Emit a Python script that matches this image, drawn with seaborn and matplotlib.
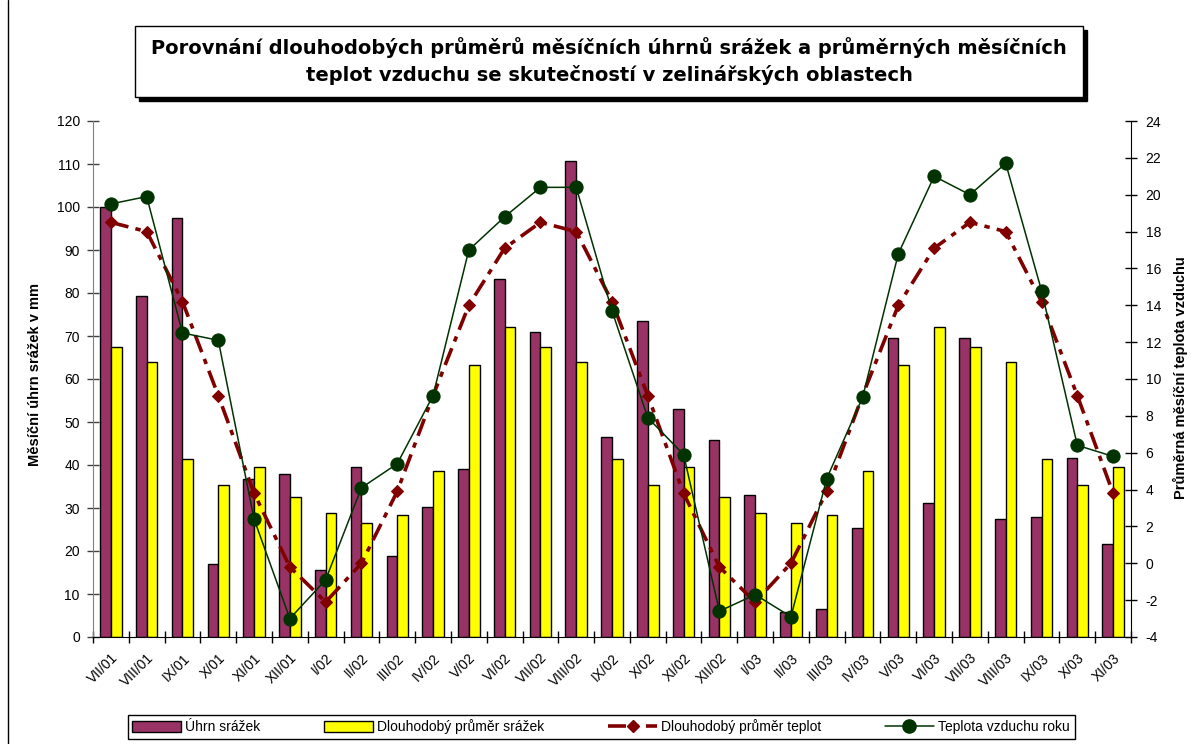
import numpy as np
import pandas as pd
import matplotlib.pyplot as plt
import matplotlib.patches as mpatches
from matplotlib.lines import Line2D
import seaborn as sns

mesice = ["VII/01", "VIII/01", "IX/01", "X/01", "XI/01", "XII/01",
          "I/02", "II/02", "III/02", "IV/02", "V/02", "VI/02",
          "VII/02", "VIII/02", "IX/02", "X/02", "XI/02", "XII/02",
          "I/03", "II/03", "III/03", "IV/03", "V/03", "VI/03",
          "VII/03", "VIII/03", "IX/03", "X/03", "XI/03"]

# srazky v mm
uhrn = [100.0, 79.2, 97.5, 17.0, 36.8, 37.9,
        15.5, 39.6, 18.8, 30.3, 39.0, 83.2,
        71.0, 110.8, 46.5, 73.6, 53.0, 45.7,
        33.0, 5.7, 6.5, 25.4, 69.5, 31.2,
        69.5, 27.4, 28.0, 41.6, 21.7]
prumer_srazek = [67.5, 64.0, 41.3, 35.3, 39.6, 32.6,
                 28.8, 26.5, 28.3, 38.5, 63.2, 72.2,
                 67.5, 64.0, 41.3, 35.3, 39.6, 32.6,
                 28.8, 26.5, 28.3, 38.5, 63.2, 72.2,
                 67.5, 64.0, 41.3, 35.3, 39.6]

# teploty ve °C
prumer_teplot = [18.5, 18.0, 14.2, 9.1, 3.8, -0.2,
                 -2.1, 0.0, 3.9, 9.1, 14.0, 17.1,
                 18.5, 18.0, 14.2, 9.1, 3.8, -0.2,
                 -2.1, 0.0, 3.9, 9.1, 14.0, 17.1,
                 18.5, 18.0, 14.2, 9.1, 3.8]
teplota = [19.5, 19.9, 12.5, 12.1, 2.4, -3.0,
           -0.9, 4.1, 5.4, 9.1, 17.0, 18.8,
           20.4, 20.4, 13.7, 7.9, 5.9, -2.6,
           -1.7, -2.9, 4.6, 9.0, 16.8, 21.0,
           20.0, 21.7, 14.8, 6.4, 5.8]

sns.set_style("ticks")
plt.rcParams["font.family"] = ["Liberation Sans", "DejaVu Sans"]
plt.rcParams["axes.unicode_minus"] = False
for k in ["text.color", "axes.labelcolor", "xtick.color", "ytick.color"]:
    plt.rcParams[k] = "black"

df = pd.DataFrame({"mesic": mesice,
                   "Úhrn srážek": uhrn,
                   "Dlouhodobý průměr srážek": prumer_srazek})
bars = df.melt(id_vars="mesic", var_name="rada", value_name="mm")

teploty = pd.DataFrame({"pos": np.arange(len(mesice)),
                        "prumer": prumer_teplot,
                        "skutecnost": teplota})

W, H = 1195, 744
fig = plt.figure(figsize=(W / 100, H / 100), dpi=100)
ax = fig.add_axes([93 / W, 1 - 637 / H, (1131 - 93) / W, (637 - 121) / H])

sns.barplot(data=bars, x="mesic", y="mm", hue="rada",
            palette=["#993366", "#ffff00"], saturation=1, width=0.6,
            edgecolor="black", linewidth=1, legend=False, ax=ax)

ax.set_xlim(-0.5, len(mesice) - 0.5)
ax.set_ylim(0, 120)
ax.set_yticks(range(0, 121, 10))
ax.set_xlabel("")
ax.set_ylabel("")
ax.set_xticks(np.arange(len(mesice)))
ax.set_xticklabels(mesice, rotation=45, ha="right", rotation_mode="anchor")
ax.set_xticks(np.arange(len(mesice) + 1) - 0.5, minor=True)
ax.tick_params(axis="x", which="major", length=0, labelsize=10, pad=10)
ax.tick_params(axis="x", which="minor", direction="inout", length=9, width=1, color="black")
ax.tick_params(axis="y", direction="inout", length=9, width=1, labelsize=10, pad=5, color="#404040")
for s in ["top", "right"]:
    ax.spines[s].set_visible(False)
ax.spines["left"].set_color("#808080")
ax.spines["bottom"].set_color("black")

ax2 = ax.twinx()
sns.lineplot(data=teploty, x="pos", y="prumer", ax=ax2, color="#800000",
             linewidth=2.6, linestyle=(0, (5, 2, 1.5, 2)),
             marker="D", markersize=6, markeredgecolor="#800000")
sns.lineplot(data=teploty, x="pos", y="skutecnost", ax=ax2, color="#003300",
             linewidth=1.1, marker="o", markersize=9.5, markeredgecolor="#003300")
ax2.set_ylim(-4, 24)
ax2.set_yticks(range(-4, 25, 2))
ax2.set_xlim(-0.5, len(mesice) - 0.5)
ax2.set_ylabel("")
ax2.set_xlabel("")
ax2.tick_params(axis="y", direction="inout", length=9, width=1, labelsize=10, pad=6)
for s in ["top", "left", "bottom"]:
    ax2.spines[s].set_visible(False)
ax2.spines["right"].set_color("black")

fig.text(35 / W, 1 - 375 / H, "Měsíční úhrn srážek v mm", rotation=90,
         ha="center", va="center", fontsize=10.5, fontweight="bold")
fig.text(1180 / W, 1 - 378 / H, "Průměrná měsíční teplota vzduchu", rotation=90,
         ha="center", va="center", fontsize=10.5, fontweight="bold")

# ramecek s nadpisem
x0, y0, x1, y1 = 135, 26, 1083, 97
fig.add_artist(mpatches.Rectangle(((x0 + 4) / W, 1 - (y1 + 4) / H), (x1 - x0) / W, (y1 - y0) / H,
                                  transform=fig.transFigure, facecolor="black", edgecolor="black"))
fig.add_artist(mpatches.Rectangle((x0 / W, 1 - y1 / H), (x1 - x0) / W, (y1 - y0) / H,
                                  transform=fig.transFigure, facecolor="white", edgecolor="black", lw=1))
fig.text((x0 + x1) / 2 / W, 1 - 61 / H,
         "Porovnání dlouhodobých průměrů měsíčních úhrnů srážek a průměrných měsíčních\n"
         "teplot vzduchu se skutečností v zelinářských oblastech",
         ha="center", va="center", fontsize=14, fontweight="bold", linespacing=1.4,
         family=["DejaVu Sans"])

fig.add_artist(Line2D([8 / W, 8 / W], [0, 1], color="black", lw=1, transform=fig.transFigure))

handles = [
    mpatches.Patch(facecolor="#993366", edgecolor="black"),
    mpatches.Patch(facecolor="#ffff00", edgecolor="black"),
    Line2D([], [], color="#800000", lw=2.6, linestyle=(0, (5, 2, 1.5, 2)), marker="D", markersize=6),
    Line2D([], [], color="#003300", lw=1.1, marker="o", markersize=9.5),
]
labels = ["Úhrn srážek", "Dlouhodobý průměr srážek", "Dlouhodobý průměr teplot", "Teplota vzduchu roku"]
leg = fig.legend(handles, labels, loc="center", bbox_to_anchor=(601 / W, 1 - 727 / H), ncol=4,
                 fontsize=10, frameon=True, fancybox=False, edgecolor="black",
                 handlelength=3.5, handleheight=0.9, columnspacing=4.6, handletextpad=0.3,
                 borderpad=0.35, framealpha=1)
leg.get_frame().set_linewidth(1)

fig.savefig("out.png", dpi=100)
